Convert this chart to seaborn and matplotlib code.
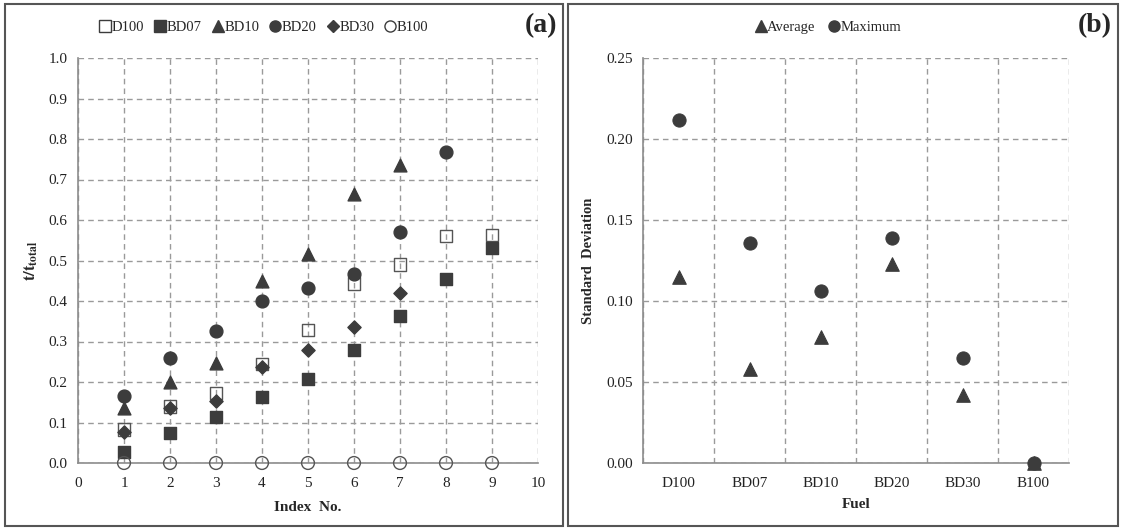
import numpy as np
import pandas as pd
import matplotlib
matplotlib.use("Agg")
import matplotlib.pyplot as plt
import seaborn as sns
from matplotlib.patches import Rectangle
from matplotlib.lines import Line2D

# ---------------- data ----------------
index_no = [1, 2, 3, 4, 5, 6, 7, 8, 9]
d100 = [0.083, 0.140, 0.173, 0.245, 0.328, 0.443, 0.490, 0.560, 0.563]
bd07 = [0.027, 0.073, 0.113, 0.163, 0.207, 0.280, 0.363, 0.455, 0.530]
bd10 = [0.135, 0.200, 0.248, 0.450, 0.515, 0.665, 0.735]
bd20 = [0.165, 0.260, 0.327, 0.400, 0.432, 0.467, 0.570, 0.767]
bd30 = [0.077, 0.135, 0.153, 0.237, 0.278, 0.337, 0.420]
b100 = [0.0, 0.0, 0.0, 0.0, 0.0, 0.0, 0.0, 0.0, 0.0]

fuels = ["D100", "BD07", "BD10", "BD20", "BD30", "B100"]
sd_average = [0.115, 0.058, 0.078, 0.123, 0.042, 0.0]
sd_maximum = [0.212, 0.136, 0.106, 0.139, 0.065, 0.0]

# ---------------- style ----------------
sns.set_style("white")
plt.rcParams["font.family"] = ["Liberation Serif", "DejaVu Serif"]
plt.rcParams["mathtext.fontset"] = "stix"

dark = "#3c3c3c"
gridc = "#9a9a9a"
axc = "#8c8c8c"
TICK = 11

fig = plt.figure(figsize=(11.23, 5.31), dpi=100)

# panel frames
for x0, x1 in [(5, 563), (568, 1118)]:
    fig.patches.append(Rectangle((x0 / 1123, 5 / 531), (x1 - x0) / 1123, (527 - 5) / 531,
                                 transform=fig.transFigure, fill=False,
                                 edgecolor="#555555", linewidth=1.5))

axA = fig.add_axes([78 / 1123, 1 - 463 / 531, (538 - 78) / 1123, (463 - 58) / 531])
axB = fig.add_axes([643 / 1123, 1 - 463 / 531, (1069 - 643) / 1123, (463 - 58) / 531])

def style_axes(ax):
    for s in ["top", "right"]:
        ax.spines[s].set_visible(False)
    for s in ["left", "bottom"]:
        ax.spines[s].set_color(axc)
        ax.spines[s].set_linewidth(1.2)
    ax.tick_params(axis="both", labelsize=TICK, colors="#222222", length=4, width=1,
                   direction="out", color=axc)
    ax.set_axisbelow(True)

# ---------------- panel (a) ----------------
series = [
    ("D100", index_no[:len(d100)], d100, "s", "none"),
    ("BD07", index_no[:len(bd07)], bd07, "s", dark),
    ("BD10", index_no[:len(bd10)], bd10, "^", dark),
    ("BD20", index_no[:len(bd20)], bd20, "o", dark),
    ("BD30", index_no[:len(bd30)], bd30, "D", dark),
    ("B100", index_no[:len(b100)], b100, "o", "none"),
]
sizes = {"s": 80, "^": 85, "o": 85, "D": 45}
for name, xs, ys, mk, fc in series:
    df = pd.DataFrame({"x": xs, "y": ys})
    sns.scatterplot(data=df, x="x", y="y", ax=axA, marker=mk, s=sizes[mk],
                    facecolor=fc, edgecolor=dark if fc != "none" else "#555555",
                    linewidth=1.0, zorder=3, clip_on=False)

axA.set_xlim(0, 10)
axA.set_ylim(0, 1.0)
axA.set_xticks(range(0, 11))
axA.set_yticks(np.arange(0, 1.01, 0.1))
axA.set_yticklabels([f"{v:.1f}" for v in np.arange(0, 1.01, 0.1)])
axA.grid(True, linestyle=(0, (4, 3)), color=gridc, linewidth=1.0)
style_axes(axA)
axA.tick_params(axis="x", pad=6)
axA.set_xlabel("Index  No.", fontsize=11, fontweight="bold", labelpad=8)
axA.set_ylabel(r"$\mathbf{t/t_{total}}$", fontsize=12, labelpad=6)

handlesA = [Line2D([], [], linestyle="none", marker=mk, markersize=8 if mk != "D" else 6,
                   markerfacecolor=fc, markeredgecolor=dark, label=name)
            for name, _, _, mk, fc in series]
axA.legend(handles=handlesA, loc="lower center", bbox_to_anchor=(0.405, 1.045), ncol=6,
           frameon=False, fontsize=10.5, handlelength=0.7, handletextpad=0.1,
           columnspacing=0.75, borderaxespad=0)
fig.text(541 / 1123, 1 - 26 / 531, "(a)", fontsize=20, fontweight="bold",
         ha="center", va="center")

# ---------------- panel (b) ----------------
dfB = pd.DataFrame({"Fuel": fuels, "Average": sd_average, "Maximum": sd_maximum})
sns.scatterplot(data=dfB, x="Fuel", y="Average", ax=axB, marker="^", s=95,
                color=dark, edgecolor=dark, zorder=3, clip_on=False)
sns.scatterplot(data=dfB, x="Fuel", y="Maximum", ax=axB, marker="o", s=90,
                color=dark, edgecolor=dark, zorder=4, clip_on=False)
axB.set_xlim(-0.5, len(fuels) - 0.5)
axB.set_ylim(0, 0.25)
axB.set_yticks(np.arange(0, 0.251, 0.05))
axB.set_yticklabels([f"{v:.2f}" for v in np.arange(0, 0.251, 0.05)])
axB.set_xticks(np.arange(-0.5, len(fuels), 1.0), minor=True)
axB.grid(True, which="minor", axis="x", linestyle=(0, (4, 3)), color=gridc, linewidth=1.0)
axB.grid(True, which="major", axis="y", linestyle=(0, (4, 3)), color=gridc, linewidth=1.0)
style_axes(axB)
axB.tick_params(axis="x", which="major", length=0, pad=10)
axB.tick_params(axis="x", which="minor", length=4, color=axc, direction="out")
axB.set_xlabel("Fuel", fontsize=11, fontweight="bold", labelpad=6)
axB.set_ylabel("Standard  Deviation", fontsize=10.5, fontweight="bold", labelpad=8)

handlesB = [Line2D([], [], linestyle="none", marker="^", markersize=8, color=dark, label="Average"),
            Line2D([], [], linestyle="none", marker="o", markersize=8, color=dark, label="Maximum")]
axB.legend(handles=handlesB, loc="lower center", bbox_to_anchor=(0.435, 1.045), ncol=2,
           frameon=False, fontsize=10.5, handlelength=0.7, handletextpad=0.1,
           columnspacing=0.9, borderaxespad=0)
fig.text(1095 / 1123, 1 - 26 / 531, "(b)", fontsize=20, fontweight="bold",
         ha="center", va="center")

fig.savefig("out.png", dpi=100)
